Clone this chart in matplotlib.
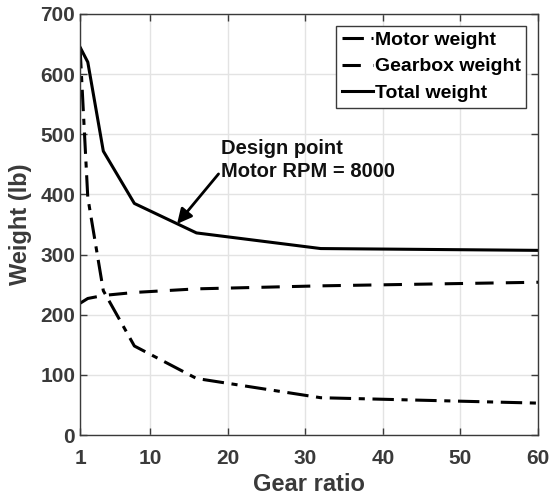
import numpy as np
import matplotlib
matplotlib.use('Agg')
import matplotlib.pyplot as plt

plt.rcParams['font.family'] = ['Liberation Sans', 'DejaVu Sans']
plt.rcParams['font.weight'] = 'bold'

gear_ratio = [1, 2, 4, 8, 16, 32, 60]
motor_weight = [645, 395, 240, 148, 94, 62, 53]
gearbox_weight = [219, 227, 232, 237, 243, 248, 254]
total_weight = [645, 620, 472, 385, 336, 310, 307]

design_x, design_y = 13.5, 351
text_x, text_y = 19.2, 457

fig = plt.figure(figsize=(5.53, 4.98), dpi=100)
ax = fig.add_axes([0.1447, 0.1265, 0.8283, 0.8454])

ax.plot(gear_ratio, motor_weight, color='black', lw=2.2, ls=(0, (7, 2.5, 2, 2.5)), label='Motor weight')
ax.plot(gear_ratio, gearbox_weight, color='black', lw=2.2, ls=(0, (6, 4)), label='Gearbox weight')
ax.plot(gear_ratio, total_weight, color='black', lw=2.2, ls='-', label='Total weight')

ax.annotate('Design point\nMotor RPM = 8000', xy=(design_x, design_y), xytext=(text_x, text_y),
            fontsize=14.5, fontweight='bold', color='#111111', va='center', ha='left',
            linespacing=1.25,
            arrowprops=dict(arrowstyle='-|>', color='black', lw=2, mutation_scale=22,
                            shrinkA=0, shrinkB=0, relpos=(0, 0.25)))

ax.set_xlim(1, 60)
ax.set_ylim(0, 700)
ax.set_xticks([1, 10, 20, 30, 40, 50, 60])
ax.set_yticks(np.arange(0, 701, 100))
ax.grid(True, color='#e3e3e3', lw=1)
ax.set_axisbelow(True)
ax.tick_params(direction='in', top=True, right=True, labelsize=15, colors='#3a3a3a',
               length=5, width=1)
ax.tick_params(axis='x', pad=10)
for lab in ax.get_xticklabels() + ax.get_yticklabels():
    lab.set_fontweight('bold')
for sp in ax.spines.values():
    sp.set_color('#3a3a3a')
    sp.set_linewidth(1)

ax.set_xlabel('Gear ratio', fontsize=17, fontweight='bold', color='#3a3a3a', labelpad=4)
ax.set_ylabel('Weight (lb)', fontsize=17, fontweight='bold', color='#3a3a3a', labelpad=6)

leg = ax.legend(loc='upper right', handlelength=1.6, handletextpad=0.1,
                borderpad=0.3, labelspacing=0.45, fancybox=False, framealpha=1,
                borderaxespad=0.6, prop={'weight': 'bold', 'size': 14})
leg.get_frame().set_edgecolor('#3a3a3a')
leg.get_frame().set_linewidth(1)

fig.savefig('out.png', dpi=100)
